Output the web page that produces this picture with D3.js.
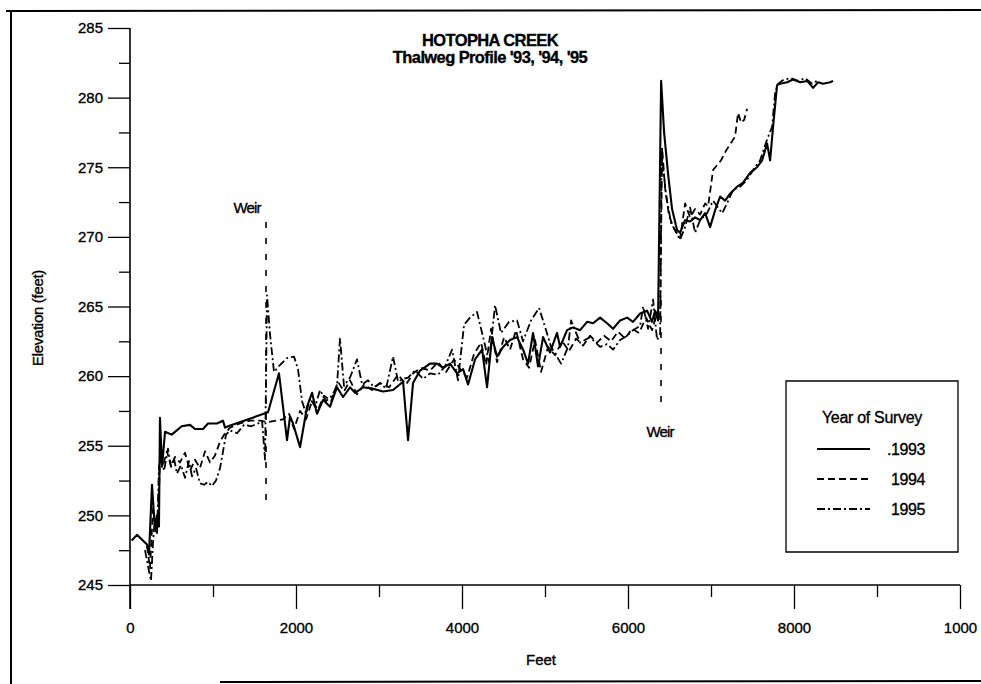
<!DOCTYPE html>
<html><head><meta charset="utf-8">
<script src="https://cdn.jsdelivr.net/npm/d3@7"></script>
<style>body{margin:0;background:#fff}svg{display:block}text{font-family:"Liberation Sans",Arial,sans-serif;fill:#000;stroke:#000;stroke-width:0.35px}</style>
</head><body><svg id="c" width="981" height="684"></svg>
<script>
const feet93=[20,84,205,229,265,301,325,349,361,386,422,502,542,623,723,783,880,940,1048,1121,1145,1181,1663,1795,1892,1928,1964,2049,2133,2193,2253,2326,2410,2494,2567,2651,2711,2808,2928,3049,3169,3290,3350,3410,3495,3615,3699,3772,3856,3940,4013,4073,4157,4242,4302,4362,4422,4495,4579,4663,4736,4796,4856,4916,4977,5061,5145,5182,5266,5338,5423,5507,5579,5664,5748,5820,5905,5989,6061,6146,6230,6290,6326,6362,6399,6435,6483,6531,6591,6628,6688,6748,6808,6869,6929,6989,7049,7110,7170,7230,7314,7387,7471,7555,7616,7676,7712,7748,7796,7833,7917,7989,8074,8158,8230,8290,8351,8435,8471];
const elev93=[248.2,248.6,247.9,247.2,252.2,249.0,250.0,249.2,257.0,253.5,256.0,255.8,256.0,256.4,256.5,256.2,256.2,256.6,256.6,256.8,256.3,256.4,257.4,260.2,255.4,257.1,256.6,254.9,257.8,258.8,257.3,258.3,257.8,259.2,258.5,259.2,258.8,259.2,259.1,258.9,259.0,259.6,255.4,259.5,260.4,260.9,260.9,260.6,260.9,260.2,260.5,259.4,261.2,261.9,259.2,262.8,261.4,262.1,262.6,262.8,261.9,260.9,263.1,260.7,262.8,261.7,263.1,262.1,263.3,263.5,263.3,263.9,263.8,264.2,263.8,263.4,264.0,264.2,263.9,264.5,264.7,263.9,264.7,264.0,281.2,277.5,274.5,272.0,270.5,270.3,271.2,271.1,271.4,271.2,271.7,270.7,271.9,272.9,272.6,273.1,273.6,273.9,274.6,275.0,275.5,276.7,275.5,277.9,280.9,281.0,281.1,281.3,281.1,281.2,280.7,281.1,281.0,281.1,281.2];

const feet94=[205,241,277,313,337,361,398,446,494,542,602,663,723,783,843,904,964,1024,1085,1145,1205,1326,1446,1567,1663,1843,1916,1976,2049,2121,2193,2265,2338,2422,2506,2578,2651,2735,2820,2916,3013,3121,3230,3326,3410,3507,3615,3711,3808,3904,3988,4061,4145,4230,4290,4350,4422,4507,4579,4651,4736,4808,4880,4952,5037,5121,5206,5290,5375,5459,5543,5627,5712,5796,5880,5964,6049,6133,6218,6290,6350,6387,6411,6447,6495,6555,6628,6688,6748,6808,6869,6929,6965,7025,7121,7182,7290,7326,7362,7399,7435];
const elev94=[247.8,246.2,250.5,248.8,249.5,254.0,253.6,254.6,253.5,254.2,253.8,254.5,253.2,254.0,253.4,254.6,253.8,254.3,255.3,255.9,256.3,256.6,256.8,256.8,256.7,256.9,257.3,256.2,257.5,256.9,258.2,257.6,258.6,258.2,259.6,258.9,259.7,258.7,259.4,259.0,259.5,259.2,260.1,259.4,260.2,260.6,260.4,261.0,260.3,261.2,260.4,259.9,261.6,262.4,260.8,263.4,261.0,262.8,261.9,263.3,261.2,260.6,262.6,260.3,262.1,261.5,262.5,261.8,262.7,262.2,262.9,262.4,262.9,262.5,263.2,262.7,263.4,263.1,264.2,263.3,264.6,264.0,276.4,273.5,271.5,270.6,269.9,272.4,271.4,272.0,271.6,272.4,272.2,274.8,275.5,276.2,277.2,278.9,278.2,278.4,279.2];

const feet95=[181,229,253,277,301,325,349,373,410,458,494,530,566,614,663,711,747,795,843,892,940,988,1036,1085,1121,1157,1205,1290,1374,1459,1543,1591,1627,1651,1687,1735,1807,1892,1976,2024,2073,2121,2169,2230,2290,2362,2434,2494,2530,2578,2651,2735,2796,2868,2940,3013,3085,3169,3230,3290,3350,3435,3531,3615,3711,3796,3880,3952,4025,4097,4181,4242,4326,4398,4470,4567,4663,4735,4832,4928,5013,5073,5194,5278,5314,5423,5543,5664,5748,5820,5905,5989,6061,6146,6182,6242,6302,6350,6387,6405,6459,6519,6628,6688,6748,6808,6869,6953,7025,7133,7194,7266,7350,7435,7507,7592,7676,7736,7772,7808,7880,7964,8049,8133,8218,8302];
const elev95=[247.5,246.0,245.3,248.0,249.8,248.6,253.5,254.3,253.2,254.8,253.5,254.1,253.0,253.6,252.7,253.9,252.8,253.4,252.3,252.2,252.4,252.1,252.5,253.4,254.6,255.8,256.1,255.9,256.5,256.4,256.6,256.8,254.0,265.8,263.0,260.3,260.8,261.3,261.4,260.5,258.2,257.3,258.4,257.8,259.0,258.2,258.6,259.3,262.7,259.3,259.9,261.2,259.4,259.7,259.2,259.5,259.1,261.4,259.6,259.8,259.9,260.4,259.8,260.2,260.1,260.7,261.9,259.7,263.7,264.2,264.6,263.1,261.0,265.1,263.1,263.9,264.0,262.5,264.0,264.9,263.3,262.1,260.9,262.1,264.0,262.4,262.8,262.1,262.3,261.9,262.6,262.9,263.3,263.6,265.0,263.4,265.5,262.6,263.0,276.0,273.0,271.0,269.8,270.7,272.1,270.3,271.2,271.7,272.6,271.7,272.4,273.4,273.6,274.1,274.8,275.5,277.0,277.9,280.3,281.0,281.3,281.4,281.2,281.4,281.0,281.3];

const xTicksMajor=[0,2000,4000,6000,8000,10000];
const xTickLabels=["0","2000","4000","6000","8000","1000"];
const xTicksMinor=[1000,3000,5000,7000,9000];
const yTicksMajor=[245,250,255,260,265,270,275,280,285];
const yTicksMinor=[247.5,252.5,257.5,262.5,267.5,272.5,277.5,282.5];
const years=[".1993","1994","1995"];
const titleLines=["HOTOPHA CREEK","Thalweg Profile '93, '94, '95"];

const svg=d3.select("#c");
const x=d3.scaleLinear().domain([0,10000]).range([130,960]);
const y=d3.scaleLinear().domain([245,285]).range([585,28]);

// frame
svg.append("line").attr("x1",6).attr("x2",981).attr("y1",11).attr("y2",10).attr("stroke","#000").attr("stroke-width",2);
svg.append("line").attr("x1",11).attr("x2",11).attr("y1",10).attr("y2",684).attr("stroke","#000").attr("stroke-width",2);
svg.append("line").attr("x1",220).attr("x2",981).attr("y1",682).attr("y2",681).attr("stroke","#000").attr("stroke-width",2);

// axes
const gx=svg.append("g").attr("transform","translate(0,585)");
gx.call(d3.axisBottom(x).tickValues(xTicksMajor).tickSize(24).tickFormat((d,i)=>xTickLabels[i]));
gx.append("g").call(d3.axisBottom(x).tickValues(xTicksMinor).tickSize(12).tickFormat(""));
gx.selectAll(".domain").remove();
gx.selectAll("line").attr("stroke","#000").attr("stroke-width",1.3);
gx.selectAll("text").attr("font-size",15).attr("y",43).attr("dy","0.35em");
svg.append("line").attr("x1",130).attr("x2",960).attr("y1",585).attr("y2",585).attr("stroke","#000").attr("stroke-width",1.6);

const gy=svg.append("g").attr("transform","translate(130,0)");
gy.call(d3.axisLeft(y).tickValues(yTicksMajor).tickSize(22).tickFormat(d3.format("d")));
gy.append("g").call(d3.axisLeft(y).tickValues(yTicksMinor).tickSize(11).tickFormat(""));
gy.selectAll(".domain").remove();
gy.selectAll("line").attr("stroke","#000").attr("stroke-width",1.3);
gy.selectAll("text").attr("font-size",15).attr("x",-27);
svg.append("line").attr("x1",130).attr("x2",130).attr("y1",28).attr("y2",609).attr("stroke","#000").attr("stroke-width",1.6);

// axis titles
svg.append("text").attr("transform","translate(43,318) rotate(-90)").attr("text-anchor","middle").attr("font-size",15).attr("letter-spacing",-0.3).text("Elevation (feet)");
svg.append("text").attr("x",541).attr("y",665).attr("text-anchor","middle").attr("font-size",15).text("Feet");

// title
titleLines.forEach((t,i)=>svg.append("text").attr("x",490).attr("y",46+i*17).attr("text-anchor","middle").attr("font-size",16.5).attr("font-weight","bold").attr("letter-spacing",-0.6).text(t));

// series
const line=d3.line().x(d=>x(d[0])).y(d=>y(d[1]));
const series=[
 {f:feet93,e:elev93,dash:null,w:2.1},
 {f:feet94,e:elev94,dash:"7,4",w:1.8},
 {f:feet95,e:elev95,dash:"8,3,2,3",w:1.8}
];
series.forEach(s=>{
  svg.append("path").datum(s.f.map((v,i)=>[v,s.e[i]])).attr("d",line).attr("fill","none").attr("stroke","#000").attr("stroke-width",s.w).attr("stroke-linejoin","round").attr("stroke-dasharray",s.dash);
});

// weir annotations
svg.append("line").attr("x1",266).attr("x2",266).attr("y1",222).attr("y2",505).attr("stroke","#000").attr("stroke-width",1.6).attr("stroke-dasharray","6,10");
svg.append("text").attr("x",247).attr("y",213).attr("text-anchor","middle").attr("font-size",15).attr("letter-spacing",-0.9).text("Weir");
svg.append("line").attr("x1",661).attr("x2",661).attr("y1",300).attr("y2",402).attr("stroke","#000").attr("stroke-width",1.6).attr("stroke-dasharray","6,10");
svg.append("text").attr("x",660).attr("y",437).attr("text-anchor","middle").attr("font-size",15).attr("letter-spacing",-0.9).text("Weir");

// legend
const lg=svg.append("g");
lg.append("path").attr("d","M786,381H958V552H786Z").attr("fill","none").attr("stroke","#000").attr("stroke-width",1.3);
lg.append("text").attr("x",872).attr("y",423).attr("text-anchor","middle").attr("font-size",16).attr("letter-spacing",-0.3).text("Year of Survey");
years.forEach((yr,i)=>{
  const yy=449+i*30;
  lg.append("line").attr("x1",817).attr("x2",870).attr("y1",yy).attr("y2",yy).attr("stroke","#000").attr("stroke-width",series[i].w).attr("stroke-dasharray",series[i].dash);
  lg.append("text").attr("x",925).attr("y",yy+6).attr("text-anchor","end").attr("font-size",16).attr("letter-spacing",-0.4).text(yr);
});
</script></body></html>
